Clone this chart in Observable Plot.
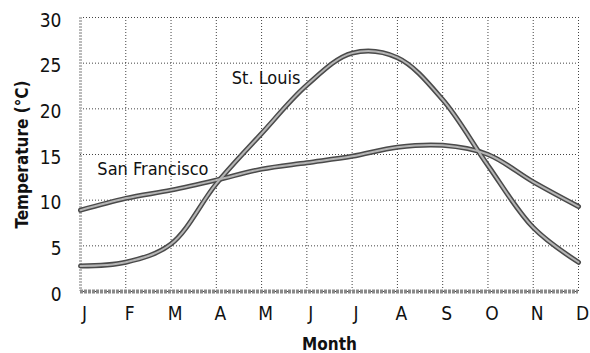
<!DOCTYPE html>
<html>
<head>
<meta charset="utf-8">
<script src="https://cdn.jsdelivr.net/npm/d3@7"></script>
<script src="https://cdn.jsdelivr.net/npm/@observablehq/plot@0.6"></script>
<style>
  html, body { margin: 0; padding: 0; background: #fff; }
  #chart svg { display: block; }
</style>
</head>
<body>
<div id="chart"></div>
<script>
// Month tick labels (index 0..11)
const monthLabels = ["J", "F", "M", "A", "M", "J", "J", "A", "S", "O", "N", "D"];
const monthIndex = [0, 1, 2, 3, 4, 5, 6, 7, 8, 9, 10, 11];
// Average monthly temperatures (°C)
const stLouis = [2.8, 3.2, 5.2, 11.8, 17.3, 22.6, 26.1, 25.6, 21.0, 13.8, 7.0, 3.2];
const sanFrancisco = [8.9, 10.2, 11.1, 12.2, 13.4, 14.1, 14.8, 15.8, 16.0, 15.0, 12.0, 9.3];
const yTicks = [0, 5, 10, 15, 20, 25, 30];
// Series name labels (anchored in data coordinates: month index, temperature)
const seriesLabels = [
  {name: "St. Louis", month: 4.1, temp: 23.4},
  {name: "San Francisco", month: 1.6, temp: 13.4}
];

const rows = [];
monthIndex.forEach((m, i) => {
  rows.push({city: "St. Louis", month: m, temp: stLouis[i]});
  rows.push({city: "San Francisco", month: m, temp: sanFrancisco[i]});
});

const font = "'Liberation Sans Narrow', 'DejaVu Sans Condensed', 'Liberation Sans', sans-serif";

const chart = Plot.plot({
  width: 590,
  height: 353,
  marginLeft: 80,
  marginRight: 12,
  marginTop: 17,
  marginBottom: 62,
  style: {fontFamily: font, background: "#fff", color: "#111"},
  x: {type: "linear", domain: [0, 11]},
  y: {domain: [0, 30]},
  marks: [
    Plot.gridX(monthIndex, {stroke: "#222", strokeOpacity: 0.85, strokeWidth: 1, strokeDasharray: "1,2"}),
    Plot.gridY(yTicks, {stroke: "#222", strokeOpacity: 0.85, strokeWidth: 1, strokeDasharray: "1,2"}),
    Plot.ruleX([0], {stroke: "#bbb", strokeWidth: 3, strokeDasharray: "2,1"}),
    Plot.ruleY([0], {stroke: "#8a8a8a", strokeWidth: 4, strokeDasharray: "3,1"}),
    // thick textured-looking lines: dark outline + lighter core
    Plot.line(rows, {x: "month", y: "temp", z: "city", curve: "catmull-rom", stroke: "#4a4a4a", strokeWidth: 5}),
    Plot.line(rows, {x: "month", y: "temp", z: "city", curve: "catmull-rom", stroke: "#b5b5b5", strokeWidth: 2}),
    Plot.axisX(monthIndex, {tickSize: 0, tickPadding: 15, dx: 4, tickFormat: i => monthLabels[i], fontSize: 19, label: null}),
    Plot.axisY(yTicks, {tickSize: 0, tickPadding: 19, dy: 3, fontSize: 19, label: null}),
    Plot.text(seriesLabels, {x: "month", y: "temp", text: "name", fontSize: 18, fill: "#111"}),
    Plot.text(["Month"], {frameAnchor: "bottom", dy: 53, lineAnchor: "middle", textAnchor: "middle", text: d => d, fontSize: 17, fontWeight: "bold", fill: "#111"}),
    Plot.text(["Temperature (°C)"], {frameAnchor: "left", dx: -58, rotate: -90, textAnchor: "middle", lineAnchor: "middle", text: d => d, fontSize: 17, fontWeight: "bold", fill: "#111"})
  ]
});

document.getElementById("chart").appendChild(chart);
</script>
</body>
</html>
